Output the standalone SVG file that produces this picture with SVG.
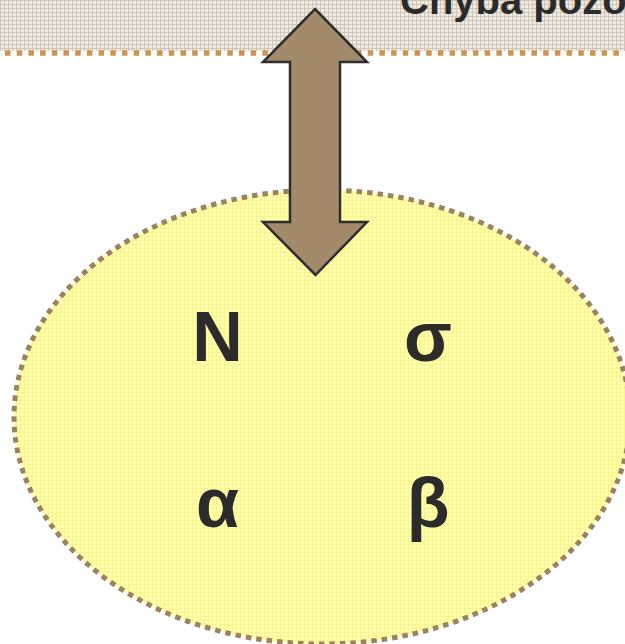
<svg xmlns="http://www.w3.org/2000/svg" width="625" height="644" viewBox="0 0 625 644">
  <defs>
    <pattern id="banner" width="4" height="4" patternUnits="userSpaceOnUse">
      <rect width="4" height="4" fill="#EEEAE4"/>
      <path d="M0 0.5H4M0.5 0V4" stroke="#CFC6B8" stroke-width="1"/>
    </pattern>
    <pattern id="yel" width="4" height="4" patternUnits="userSpaceOnUse">
      <rect width="4" height="4" fill="#FFFFAC"/>
      <path d="M0 0.5H4M0.5 0V4" stroke="#F8F590" stroke-width="1"/>
    </pattern>
  </defs>
  <style>
    .glyph { font-family: "Liberation Sans", Arial, sans-serif; font-weight: bold; fill: #2B2B2B; }
  </style>
  <rect width="625" height="644" fill="#FFFFFF"/>
  <g id="banner-header">
    <rect x="0" y="0" width="625" height="51" fill="url(#banner)"/>
    <line x1="5" y1="53" x2="625" y2="53" stroke="#C9964F" stroke-width="5.5" stroke-dasharray="5.5 6.2"/>
    <text class="glyph" x="400" y="14" font-size="40">Chyba pozo</text>
  </g>
  <g id="ellipse-node">
    <ellipse cx="322" cy="417" rx="308" ry="227" fill="url(#yel)" stroke="#9A8262" stroke-width="5" stroke-dasharray="5.5 5"/>
    <text class="glyph" x="217.5" y="361" font-size="70" text-anchor="middle">N</text>
    <text class="glyph" x="428" y="361" font-size="70" text-anchor="middle">σ</text>
    <text class="glyph" x="217.5" y="527" font-size="70" text-anchor="middle">α</text>
    <text class="glyph" x="428" y="527" font-size="70" text-anchor="middle">β</text>
  </g>
  <g id="connectors">
    <path d="M315,9 L367,62 L340,62 L340,222 L367,222 L315.5,275 L263,222 L290,222 L290,62 L263,62 Z" fill="#A38A6A" stroke="#2E2E2E" stroke-width="2.5" stroke-linejoin="miter"/>
  </g>
</svg>
